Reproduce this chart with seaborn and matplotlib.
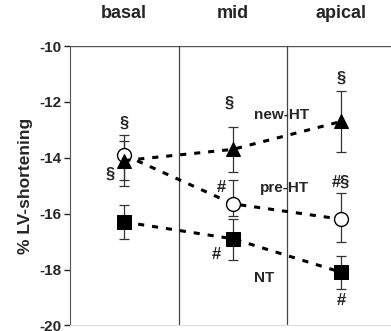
import numpy as np
import pandas as pd
import matplotlib
matplotlib.use("Agg")
import matplotlib.pyplot as plt
import seaborn as sns

# regions along the LV
regions = ["basal", "mid", "apical"]

# mean % LV-shortening per group
nt_mean = [-16.3, -16.9, -18.1]
pre_mean = [-13.9, -15.65, -16.2]
new_mean = [-14.1, -13.7, -12.7]

# error bar ends (upper / lower)
nt_hi = [-15.7, -16.2, -17.5]
nt_lo = [-16.9, -17.65, -18.7]
pre_hi = [-13.2, -14.8, -15.25]
pre_lo = [-14.8, -16.1, -17.0]
new_hi = [-13.4, -12.9, -11.6]
new_lo = [-15.0, -14.5, -13.8]

groups = ["NT", "pre-HT", "new-HT"]

sns.set_style("white")
plt.rcParams["font.family"] = ["Liberation Sans", "DejaVu Sans"]
plt.rcParams["font.weight"] = "bold"

rows = []
for g, m in zip(groups, [nt_mean, pre_mean, new_mean]):
    for i, v in enumerate(m):
        rows.append({"group": g, "pos": i, "value": v})
df = pd.DataFrame(rows)

fig = plt.figure(figsize=(3.91, 3.31), dpi=100)
ax = fig.add_axes([0.179, 0.017, 0.83, 0.844])

# error bars first, so markers sit on top
for m, hi, lo in [(nt_mean, nt_hi, nt_lo), (pre_mean, pre_hi, pre_lo), (new_mean, new_hi, new_lo)]:
    m = np.array(m)
    yerr = [m - np.array(lo), np.array(hi) - m]
    ax.errorbar(range(3), m, yerr=yerr, fmt="none", ecolor="#333333",
                elinewidth=0.9, capsize=3.5, capthick=0.9, zorder=2)

sns.lineplot(data=df, x="pos", y="value", hue="group", style="group",
             hue_order=groups, style_order=groups,
             palette={"NT": "black", "pre-HT": "black", "new-HT": "black"},
             markers={"NT": "s", "pre-HT": "o", "new-HT": "^"},
             dashes={"NT": (2, 2.6), "pre-HT": (2, 2.6), "new-HT": (2, 2.6)},
             linewidth=2.2, markersize=10, legend=False, ax=ax, zorder=3)

# open circle for pre-HT
for ln in ax.get_lines():
    if ln.get_marker() == "o":
        ln.set_markerfacecolor("white")
        ln.set_markeredgecolor("black")
        ln.set_markeredgewidth(1.0)
    elif ln.get_marker() in ("s", "^"):
        ln.set_markeredgecolor("black")

ax.set_xlim(-0.5, 2.49)
ax.set_ylim(-20, -10)
ax.set_yticks([-20, -18, -16, -14, -12, -10])
ax.set_yticklabels(["-20", "-18", "-16", "-14", "-12", "-10"], fontsize=11, fontweight="bold")
ax.set_xticks([])
ax.set_xlabel("")
ax.set_ylabel("% LV-shortening", fontsize=12.5, fontweight="bold", labelpad=5)
ax.tick_params(axis="y", length=4, width=1, direction="out", left=True, pad=2)

for s in ["top", "right"]:
    ax.spines[s].set_visible(False)
ax.spines["left"].set_color("#555555")
ax.spines["bottom"].set_color("#dddddd")
ax.axhline(-10, color="#555555", lw=1, zorder=1)
for xv in [0.5, 1.5]:
    ax.axvline(xv, color="#444444", lw=0.9, zorder=1)

for i, r in enumerate(regions):
    ax.text(i, -9.15, r, ha="center", va="bottom", fontsize=13, fontweight="bold")

# significance marks: (region, offset, y, text)
marks = [
    (0, 0.0, -12.75, "§"), (0, -0.13, -14.6, "§"),
    (1, -0.03, -12.05, "§"), (1, -0.11, -15.05, "#"), (1, -0.15, -17.45, "#"),
    (2, 0.0, -11.15, "§"), (2, 0.0, -14.88, "#§"), (2, 0.0, -19.1, "#"),
]
for r, dx, y, t in marks:
    ax.text(r + dx, y, t, ha="center", va="center", fontsize=12, fontweight="bold")

ax.text(1.45, -12.46, "new-HT", ha="center", va="center", fontsize=11, fontweight="bold")
ax.text(1.48, -15.1, "pre-HT", ha="center", va="center", fontsize=11, fontweight="bold")
ax.text(1.29, -18.29, "NT", ha="center", va="center", fontsize=11, fontweight="bold")

fig.savefig("out.png", dpi=100)
